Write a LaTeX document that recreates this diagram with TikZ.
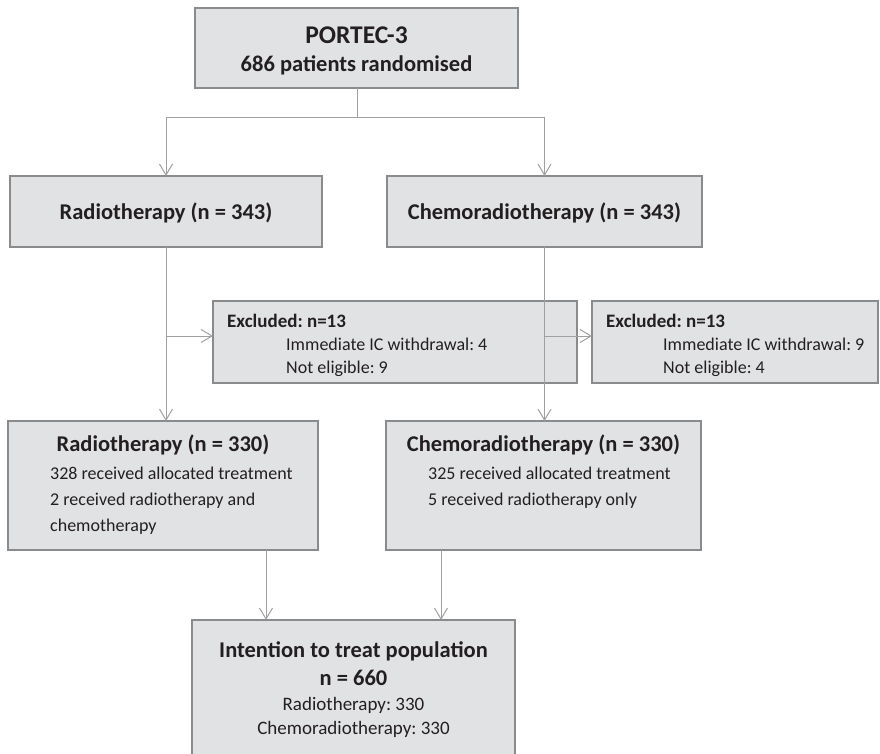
\documentclass[tikz,border=0pt]{standalone}
\usepackage{fontspec}
\setmainfont{Carlito}
\usetikzlibrary{arrows.meta}
\definecolor{boxfill}{HTML}{E1E2E4}
\definecolor{boxline}{HTML}{8A8B8D}
\definecolor{connline}{HTML}{A0A0A0}
\definecolor{txt}{HTML}{231F20}
\frenchspacing
\tikzset{
  box/.style={draw=boxline, fill=boxfill, line width=2.6pt, inner sep=0pt, outer sep=0pt},
  conn/.style={draw=connline, line width=1pt},
  arr/.style={conn, -{Straight Barb[length=11pt,width=13pt,line width=1pt]}},
  ttl/.style={font=\fontsize{22.5}{26}\selectfont\bfseries, text=txt, inner sep=0pt, anchor=base},
  big/.style={font=\fontsize{25.5}{30}\selectfont\bfseries, text=txt, inner sep=0pt, anchor=base},
  exl/.style={font=\fontsize{19}{22}\selectfont\bfseries, text=txt, inner sep=0pt, anchor=base west},
  body/.style={font=\fontsize{18}{21}\selectfont, text=txt, inner sep=0pt, anchor=base west},
  bodyc/.style={font=\fontsize{19}{22}\selectfont, text=txt, inner sep=0pt, anchor=base},
}
\newcommand\mybox[5]{\node[box, minimum width={(#4-#2)*1pt}, minimum height={(#5-#3)*1pt}] (#1) at ({(#2+#4)/2},{(#3+#5)/2}) {};}
\begin{document}
\begin{tikzpicture}[x=1pt,y=-1pt]
\clip (0,0) rectangle (880,753);
% boxes
\mybox{top}{195}{8}{518}{88}
\mybox{radA}{10}{176}{322}{247}
\mybox{cheA}{387}{176}{702}{247}
\mybox{exA}{213}{301}{577}{383}
\mybox{exB}{592}{301}{878}{383}
\mybox{radB}{8}{421}{318}{550}
\mybox{cheB}{386}{421}{701}{550}
\mybox{itt}{192}{620}{515}{770}
% texts
\node[big] (t1) at (356.5,43) {PORTEC-3};
\node[ttl] (t2) at (356.5,71) {686 patients randomised};
\node[ttl] (t3) at (166,219) {Radiotherapy (n = 343)};
\node[ttl] (t4) at (544.5,219) {Chemoradiotherapy (n = 343)};
\node[exl] (e1) at (227,327) {Excluded: n=13};
\node[body] (e2) at (286,350) {Immediate IC withdrawal: 4};
\node[body] (e3) at (286,373) {Not eligible: 9};
\node[exl] (f1) at (606,327) {Excluded: n=13};
\node[body] (f2) at (663,350) {Immediate IC withdrawal: 9};
\node[body] (f3) at (663,373) {Not eligible: 4};
\node[ttl] (r1) at (163,451) {Radiotherapy (n = 330)};
\node[body] (r2) at (50,479) {328 received allocated treatment};
\node[body] (r3) at (50,505) {2 received radiotherapy and};
\node[body] (r4) at (50,531) {chemotherapy};
\node[ttl] (c1) at (543.5,451) {Chemoradiotherapy (n = 330)};
\node[body] (c2) at (428,479) {325 received allocated treatment};
\node[body] (c3) at (428,505) {5 received radiotherapy only};
\node[ttl] (i1) at (353.5,657) {Intention to treat population};
\node[ttl] (i2) at (353.5,685) {n = 660};
\node[bodyc] (i3) at (353.5,710) {Radiotherapy: 330};
\node[bodyc] (i4) at (353.5,734) {Chemoradiotherapy: 330};
% connectors
\coordinate (split) at (357,117);
\draw[conn] (top.south -| split) -- (split);
\draw[arr] (split) -| (radA.north);
\draw[arr] (split) -| (cheA.north);
\draw[arr] (radA.south) -- (radA.south |- radB.north);
\draw[arr] (cheA.south) -- (cheA.south |- cheB.north);
\coordinate (bA) at (166,336);
\coordinate (bB) at (544.5,336);
\draw[arr] (bA) -- (bA -| exA.west);
\draw[arr] (bB) -- (bB -| exB.west);
\coordinate (dA) at (266,550);
\coordinate (dB) at (441,550);
\draw[arr] (dA |- radB.south) -- (dA |- itt.north);
\draw[arr] (dB |- cheB.south) -- (dB |- itt.north);
\end{tikzpicture}
\end{document}
